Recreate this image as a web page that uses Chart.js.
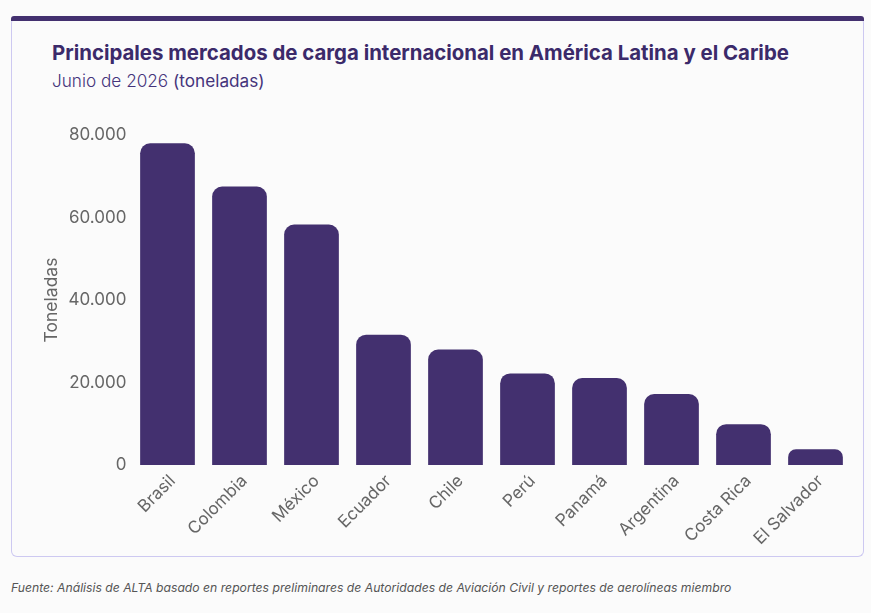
<!DOCTYPE html>
<html>
<head>
<meta charset="utf-8">
<script src="https://cdn.jsdelivr.net/npm/chart.js@4"></script>
<style>
  html, body { margin: 0; padding: 0; background: #fbfbfb; }
  body { width: 871px; height: 613px; position: relative; overflow: hidden; font-family: Inter, "Open Sans", sans-serif; }
  .card { position: absolute; left: 11px; top: 17px; width: 851px; height: 539px;
          border: 1px solid #cdc9f1; border-top: none; border-radius: 6px; background: #fbfbfb; }
  .topbar { position: absolute; left: 11px; top: 16px; width: 853px; height: 5px; background: #43306f; border-radius: 3px 3px 0 0; }
  h1 { position: absolute; left: 52px; top: 40px; margin: 0; font-size: 20.4px; line-height: 25px; font-weight: 700; color: #3b2a6a; white-space: nowrap; }
  .sub { position: absolute; left: 52px; top: 70px; margin: 0; font-size: 17.2px; line-height: 22px; color: #45347b; white-space: nowrap; }
  .sub .light { font-weight: 300; }
  .chart { position: absolute; left: 11px; top: 100px; width: 853px; height: 455px; }
  .foot { position: absolute; left: 11px; top: 580px; font-size: 12.2px; font-style: italic; color: #555; white-space: nowrap; }
</style>
</head>
<body>
<div class="card"></div>
<div class="topbar"></div>
<h1>Principales mercados de carga internacional en América Latina y el Caribe</h1>
<p class="sub"><span class="light">Junio de 2026</span> (toneladas)</p>
<div class="chart"><canvas id="cargoChart"></canvas></div>
<div class="foot">Fuente: Análisis de ALTA basado en reportes preliminares de Autoridades de Aviación Civil y reportes de aerolíneas miembro</div>

<script>
const countries = ["Brasil", "Colombia", "México", "Ecuador", "Chile", "Perú", "Panamá", "Argentina", "Costa Rica", "El Salvador"];
const tons = [78000, 67500, 58300, 31600, 28000, 22200, 21100, 17200, 9900, 3800];
const yTicks = [0, 20000, 40000, 60000, 80000];

const fmt = v => String(v).replace(/\B(?=(\d{3})+(?!\d))/g, ".");

const ctx = document.getElementById("cargoChart").getContext("2d");

new Chart(ctx, {
  type: "bar",
  data: {
    labels: countries,
    datasets: [{
      label: "Toneladas",
      data: tons,
      backgroundColor: "#43306f",
      borderRadius: 10,
      borderSkipped: "start",
      barPercentage: 0.76,
      categoryPercentage: 1
    }]
  },
  options: {
    responsive: true,
    maintainAspectRatio: false,
    animation: false,
    layout: { padding: { left: 0, right: 12.5, top: 35, bottom: 0 } },
    plugins: {
      legend: { display: false },
      tooltip: { enabled: false }
    },
    scales: {
      x: {
        grid: { display: false, drawTicks: false },
        border: { display: false },
        ticks: {
          color: "#666",
          font: { family: "Inter", size: 17 },
          minRotation: 45,
          maxRotation: 45,
          padding: 6,
          labelOffset: 5
        },
        afterFit(scale) { scale.height = 90; }
      },
      y: {
        min: 0,
        max: 80000,
        grid: { display: false, drawTicks: false },
        border: { display: false },
        afterBuildTicks(scale) { scale.ticks = yTicks.map(v => ({ value: v })); },
        ticks: {
          color: "#666",
          font: { family: "Inter", size: 17 },
          padding: 5,
          callback: v => fmt(v)
        },
        title: {
          display: true,
          text: "Toneladas",
          color: "#666",
          font: { family: "Inter", size: 17.5 },
          padding: { top: 30, bottom: 0 }
        },
        afterFit(scale) { scale.width = 120.5; }
      }
    }
  }
});
</script>
</body>
</html>
